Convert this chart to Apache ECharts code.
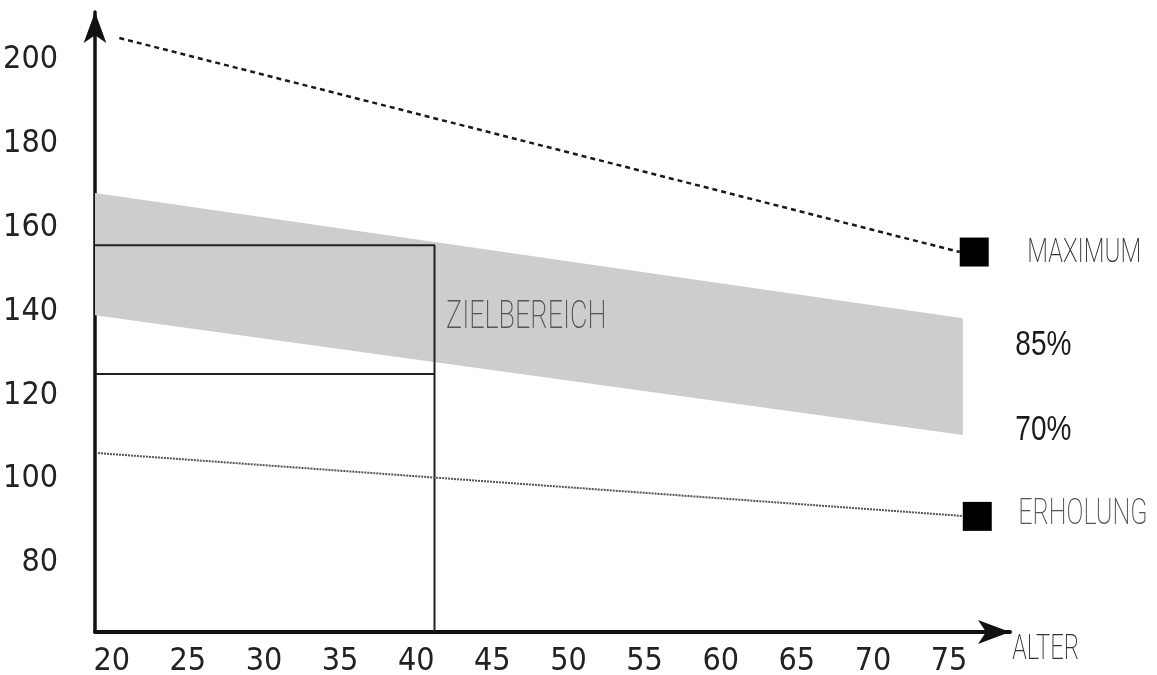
<!DOCTYPE html>
<html><head><meta charset="utf-8">
<script src="https://cdn.jsdelivr.net/npm/echarts@6/dist/echarts.min.js"></script>
<style>html,body{margin:0;padding:0;background:#fff}#c{width:1157px;height:675px}</style>
</head><body><div id="c"></div>
<script>
// ---- data (age in years, heart rate in beats/min) ----
const xTickLabels = [20, 25, 30, 35, 40, 45, 50, 55, 60, 65, 70, 75];
const yTickLabels = [80, 100, 120, 140, 160, 180, 200];
const maximumLine = [[20.5, 205.3], [75.7, 154.2]];
const recoveryLine = [[19.1, 106.2], [75.9, 91.2]];
const upper85 = [[18.9, 168.3], [75.9, 138.4]];
const lower70 = [[18.9, 139.1], [75.9, 110.5]];
const targetAges = [18.9, 41.2];
const targetPulse = [125.1, 155.8];
const endMarkers = [[76.65, 154.2], [76.85, 91.1]];
const labelTexts = ['MAXIMUM', '85%', '70%', 'ERHOLUNG', 'ZIELBEREICH', 'ALTER'];

// ---- chart ----
const NUM_FONT = '"DejaVu Sans Condensed", "Liberation Sans", sans-serif';
const PCT_FONT = '"Liberation Sans", Arial, sans-serif';
const THIN_FONT = 'Roboto, "Open Sans", Lato, sans-serif';
const X_MIN = 18.9, X_MAX = 79.0, Y_MIN = 63.5, Y_MAX = 211.5;

const annotations = [
  { text: labelTexts[0], at: [80.14, 153.7], size: 33, sx: 0.73, font: THIN_FONT, weight: 200, color: '#333' },
  { text: labelTexts[1], at: [79.35, 132.0], size: 35, sx: 0.8, font: PCT_FONT, weight: 'normal', color: '#1a1a1a' },
  { text: labelTexts[2], at: [79.35, 111.7], size: 35, sx: 0.8, font: PCT_FONT, weight: 'normal', color: '#1a1a1a' },
  { text: labelTexts[3], at: [79.54, 91.4], size: 37, sx: 0.68, font: THIN_FONT, weight: 200, color: '#555' },
  { text: labelTexts[4], at: [41.96, 138.4], size: 39, sx: 0.69, font: THIN_FONT, weight: 200, color: '#555' },
  { text: labelTexts[5], at: [79.15, 59.2], size: 35, sx: 0.68, font: THIN_FONT, weight: 200, color: '#333' }
];

const chart = echarts.init(document.getElementById('c'), null, { renderer: 'canvas' });
chart.setOption({
  animation: false,
  backgroundColor: '#fff',
  grid: { left: 95, right: 147, top: 12, bottom: 43, containLabel: false, outerBoundsMode: 'none' },
  xAxis: {
    type: 'value', min: X_MIN, max: X_MAX,
    axisLine: { show: true, onZero: false, symbol: ['none', 'arrow'], symbolSize: [18, 32],
      lineStyle: { color: '#111', width: 4 } },
    axisTick: { show: false },
    splitLine: { show: false },
    axisLabel: { customValues: xTickLabels, color: '#222', fontSize: 32, fontFamily: NUM_FONT, margin: 14 }
  },
  yAxis: {
    type: 'value', min: Y_MIN, max: Y_MAX,
    axisLine: { show: true, onZero: false, symbol: ['none', 'arrow'], symbolSize: [17, 31],
      lineStyle: { color: '#111', width: 3.5 } },
    axisTick: { show: false },
    splitLine: { show: false },
    axisLabel: { customValues: yTickLabels, color: '#222', fontSize: 32, fontFamily: NUM_FONT, margin: 37 }
  },
  series: [
    {
      type: 'custom', name: 'Zielbereich 70–85%', z: 1, clip: false,
      data: [0],
      renderItem: function (params, api) {
        const pts = upper85.map(p => api.coord(p)).concat(lower70.slice().reverse().map(p => api.coord(p)));
        return { type: 'polygon', shape: { points: pts }, style: { fill: '#cdcdcd' } };
      }
    },
    {
      type: 'line', name: 'Zielbereich-Rahmen', z: 3, symbol: 'none',
      data: [[targetAges[0], targetPulse[1]], [targetAges[1], targetPulse[1]], [targetAges[1], Y_MIN]],
      lineStyle: { color: '#222', width: 2 }
    },
    {
      type: 'line', name: 'Zielbereich-Unten', z: 3, symbol: 'none',
      data: [[targetAges[0], targetPulse[0]], [targetAges[1], targetPulse[0]]],
      lineStyle: { color: '#222', width: 2 }
    },
    {
      type: 'line', name: 'Maximum', z: 3, symbol: 'none',
      data: maximumLine,
      lineStyle: { color: '#1a1a1a', width: 2.5, type: [5, 4] }
    },
    {
      type: 'line', name: 'Erholung', z: 3, symbol: 'none',
      data: recoveryLine,
      lineStyle: { color: '#555', width: 2, type: [2, 1] }
    },
    {
      type: 'scatter', name: 'Marker', z: 4, symbol: 'rect', symbolSize: 29,
      data: endMarkers, itemStyle: { color: '#000', opacity: 1 }, clip: false
    },
    {
      type: 'custom', name: 'Beschriftung', z: 5, clip: false,
      data: annotations.map(a => a.at),
      renderItem: function (params, api) {
        const a = annotations[params.dataIndex];
        const p = api.coord([api.value(0), api.value(1)]);
        return {
          type: 'text', x: p[0], y: p[1], scaleX: a.sx, scaleY: 1,
          style: {
            text: a.text, fill: a.color, fontSize: a.size,
            fontFamily: a.font, fontWeight: a.weight,
            align: 'left', verticalAlign: 'middle'
          }
        };
      }
    }
  ]
});
</script>
</body></html>
